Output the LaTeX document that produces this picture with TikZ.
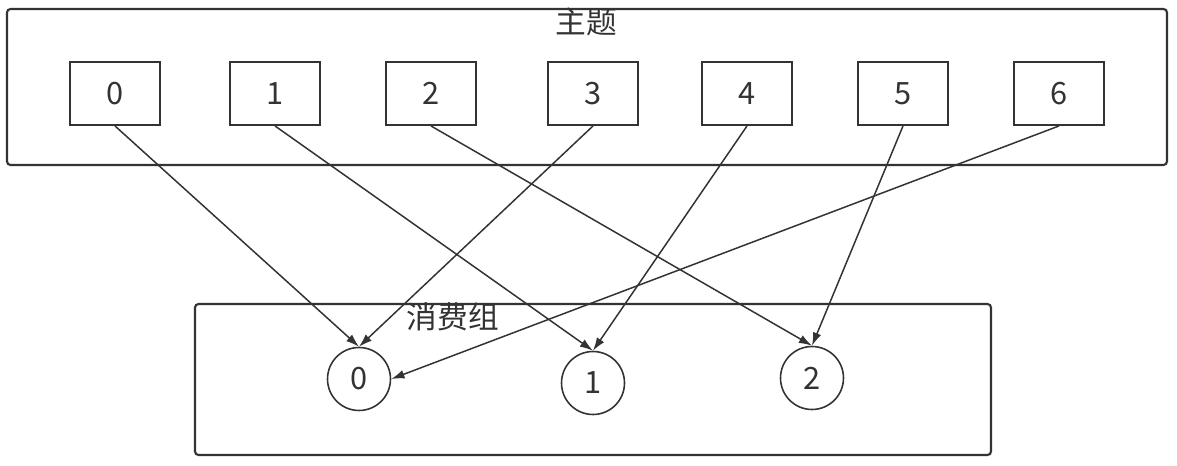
\documentclass[tikz,border=0pt]{standalone}
\usepackage{fontspec}
\setmainfont{Noto Sans CJK SC}
\usetikzlibrary{arrows.meta}
\definecolor{ink}{HTML}{333333}

\begin{document}
\begin{tikzpicture}[x=0.02cm, y=-0.02cm, >={Latex[length=7.5pt,width=5pt]},
  every node/.style={text=ink, font=\fontsize{17.5}{20}\selectfont},
  part/.style={draw=ink, line width=1.1pt, minimum width=1.8cm, minimum height=1.26cm, inner sep=0pt},
  member/.style={draw=ink, line width=0.9pt, circle, minimum size=1.26cm, inner sep=0pt},
  frame/.style={draw=ink, line width=1.2pt, rounded corners=2pt}]
\useasboundingbox (0,0) rectangle (1177,466);

%%%%%%%%%%%% Topic
  \begin{scope}
    \draw[frame] (7,9) rectangle (1167,165);
    \node (topic) at (586,22) {主题};
    \foreach \i / \x in {0/115, 1/275, 2/431, 3/593, 4/747, 5/903, 6/1059}
      \node[part] (p\i) at (\x, 93.5) {\i};
  \end{scope}

%%%%%%%%%%%% Consumer group
  \begin{scope}
    \draw[frame] (195,304) rectangle (991,455);
    \node (group) at (453,317) {消费组};
    \node[member] (c0) at (359,379) {0};
    \node[member] (c1) at (593,383) {1};
    \node[member] (c2) at (812,378) {2};
  \end{scope}

\begin{scope}[draw=ink, line width=0.85pt]
  \foreach \p / \c in {0/0, 1/1, 2/2, 3/0, 4/1, 5/2}
    \draw[->] (p\p.south) -- (c\c.north);
  \draw[->] (p6.south) -- (c0.east);
\end{scope}
\end{tikzpicture}
\end{document}
